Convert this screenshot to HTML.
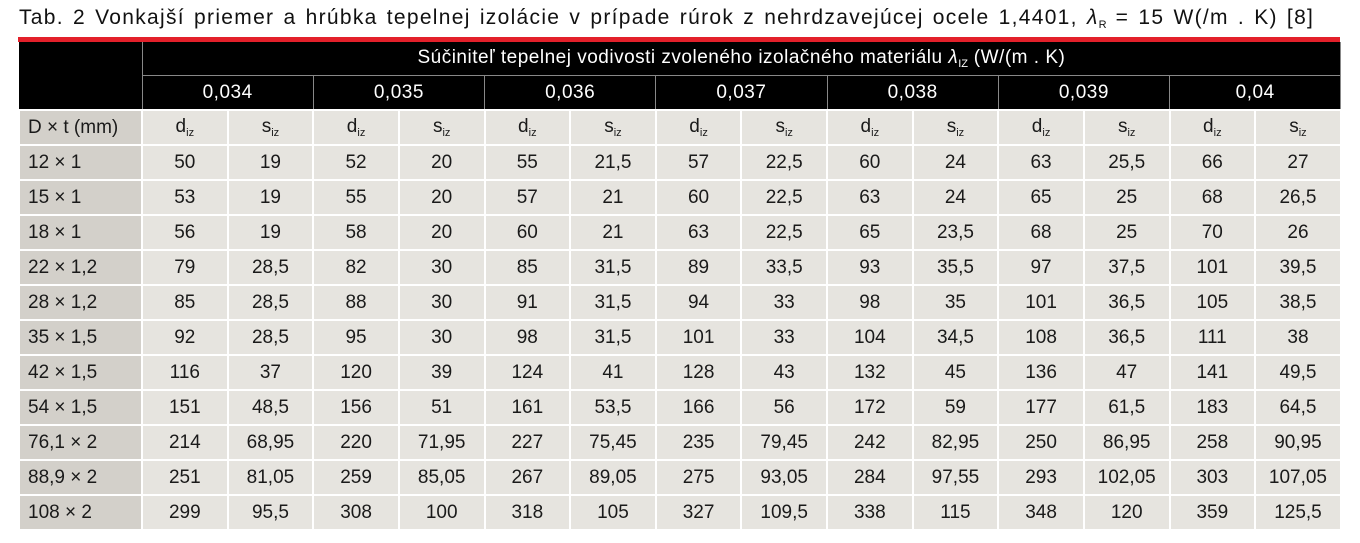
<!DOCTYPE html>
<html><head><meta charset="utf-8"><style>
body{margin:0;width:1360px;height:543px;background:#fff;font-family:"Liberation Sans",sans-serif;overflow:hidden}
.title{position:absolute;left:19px;top:6px;font-size:21px;color:#111;white-space:nowrap;letter-spacing:1.3px;word-spacing:2px}
.red{position:absolute;left:18px;top:37px;width:1322px;height:5px;background:#e3202a}
table{position:absolute;left:18px;top:42px;border-collapse:collapse;table-layout:fixed;width:1322px}
td{text-align:center;font-size:19px;color:#1a1a1a;padding:0;height:33px;border:2px solid #fff;background:#e6e4df}
td.f{text-align:left;padding-left:8px;background:#d3d0ca}
tr.h td{background:#000;color:#fff;border:1px solid #888;border-top:none;height:33px;letter-spacing:0.5px}
sub{font-size:11px;vertical-align:-4px;letter-spacing:0}
</style></head><body>
<div class="title">Tab. 2 Vonkajší priemer a hrúbka tepelnej izolácie v prípade rúrok z nehrdzavejúcej ocele 1,4401, <i>λ</i><sub>R</sub> = 15 W(/m . K) [8]</div>
<div class="red"></div>
<table>
<colgroup><col style="width:123px"><col span="14" style="width:85.64px"></colgroup>
<tr class="h"><td rowspan="2" style="border:none"></td><td colspan="14">Súčiniteľ tepelnej vodivosti zvoleného izolačného materiálu <i>λ</i><sub>IZ</sub> (W/(m . K)</td></tr>
<tr class="h"><td colspan="2">0,034</td><td colspan="2">0,035</td><td colspan="2">0,036</td><td colspan="2">0,037</td><td colspan="2">0,038</td><td colspan="2">0,039</td><td colspan="2">0,04</td></tr>
<tr><td class="f">D × t (mm)</td><td>d<sub>iz</sub></td><td>s<sub>iz</sub></td><td>d<sub>iz</sub></td><td>s<sub>iz</sub></td><td>d<sub>iz</sub></td><td>s<sub>iz</sub></td><td>d<sub>iz</sub></td><td>s<sub>iz</sub></td><td>d<sub>iz</sub></td><td>s<sub>iz</sub></td><td>d<sub>iz</sub></td><td>s<sub>iz</sub></td><td>d<sub>iz</sub></td><td>s<sub>iz</sub></td></tr>
<tr><td class="f">12 × 1</td><td>50</td><td>19</td><td>52</td><td>20</td><td>55</td><td>21,5</td><td>57</td><td>22,5</td><td>60</td><td>24</td><td>63</td><td>25,5</td><td>66</td><td>27</td></tr>
<tr><td class="f">15 × 1</td><td>53</td><td>19</td><td>55</td><td>20</td><td>57</td><td>21</td><td>60</td><td>22,5</td><td>63</td><td>24</td><td>65</td><td>25</td><td>68</td><td>26,5</td></tr>
<tr><td class="f">18 × 1</td><td>56</td><td>19</td><td>58</td><td>20</td><td>60</td><td>21</td><td>63</td><td>22,5</td><td>65</td><td>23,5</td><td>68</td><td>25</td><td>70</td><td>26</td></tr>
<tr><td class="f">22 × 1,2</td><td>79</td><td>28,5</td><td>82</td><td>30</td><td>85</td><td>31,5</td><td>89</td><td>33,5</td><td>93</td><td>35,5</td><td>97</td><td>37,5</td><td>101</td><td>39,5</td></tr>
<tr><td class="f">28 × 1,2</td><td>85</td><td>28,5</td><td>88</td><td>30</td><td>91</td><td>31,5</td><td>94</td><td>33</td><td>98</td><td>35</td><td>101</td><td>36,5</td><td>105</td><td>38,5</td></tr>
<tr><td class="f">35 × 1,5</td><td>92</td><td>28,5</td><td>95</td><td>30</td><td>98</td><td>31,5</td><td>101</td><td>33</td><td>104</td><td>34,5</td><td>108</td><td>36,5</td><td>111</td><td>38</td></tr>
<tr><td class="f">42 × 1,5</td><td>116</td><td>37</td><td>120</td><td>39</td><td>124</td><td>41</td><td>128</td><td>43</td><td>132</td><td>45</td><td>136</td><td>47</td><td>141</td><td>49,5</td></tr>
<tr><td class="f">54 × 1,5</td><td>151</td><td>48,5</td><td>156</td><td>51</td><td>161</td><td>53,5</td><td>166</td><td>56</td><td>172</td><td>59</td><td>177</td><td>61,5</td><td>183</td><td>64,5</td></tr>
<tr><td class="f">76,1 × 2</td><td>214</td><td>68,95</td><td>220</td><td>71,95</td><td>227</td><td>75,45</td><td>235</td><td>79,45</td><td>242</td><td>82,95</td><td>250</td><td>86,95</td><td>258</td><td>90,95</td></tr>
<tr><td class="f">88,9 × 2</td><td>251</td><td>81,05</td><td>259</td><td>85,05</td><td>267</td><td>89,05</td><td>275</td><td>93,05</td><td>284</td><td>97,55</td><td>293</td><td>102,05</td><td>303</td><td>107,05</td></tr>
<tr><td class="f">108 × 2</td><td>299</td><td>95,5</td><td>308</td><td>100</td><td>318</td><td>105</td><td>327</td><td>109,5</td><td>338</td><td>115</td><td>348</td><td>120</td><td>359</td><td>125,5</td></tr>
</table>
</body></html>
